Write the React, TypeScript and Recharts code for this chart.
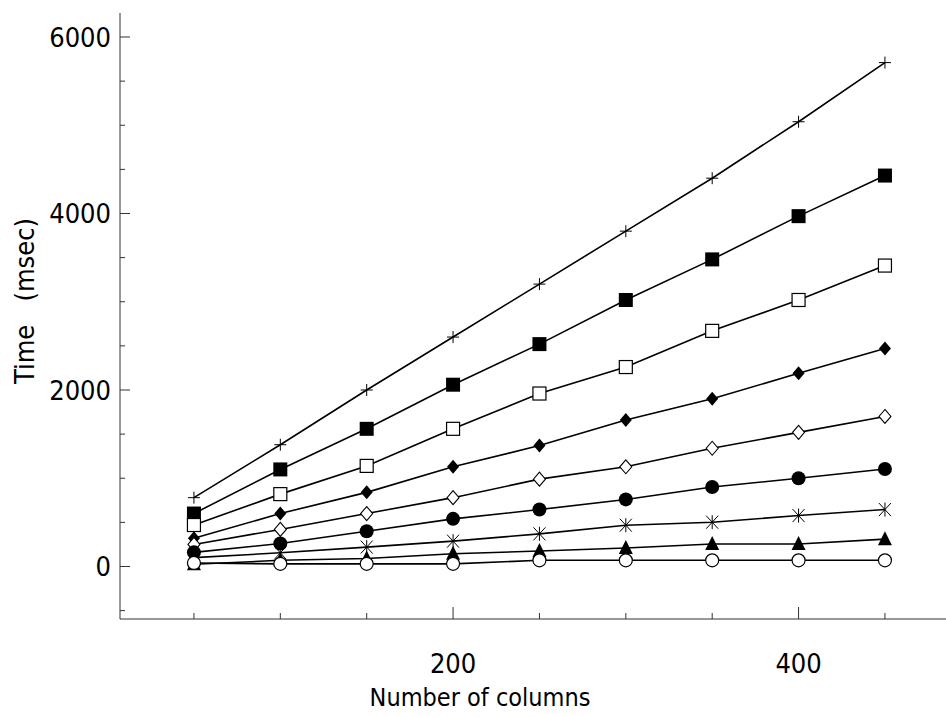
import { LineChart, Line, XAxis, YAxis } from "recharts";

const columns = [50, 100, 150, 200, 250, 300, 350, 400, 450];
const plusTimes = [780, 1380, 2000, 2600, 3200, 3800, 4400, 5040, 5710];
const filledSquareTimes = [600, 1100, 1560, 2060, 2520, 3020, 3480, 3970, 4430];
const openSquareTimes = [470, 820, 1140, 1560, 1960, 2260, 2670, 3020, 3410];
const filledDiamondTimes = [320, 600, 840, 1130, 1370, 1660, 1900, 2190, 2470];
const openDiamondTimes = [250, 420, 600, 780, 990, 1130, 1340, 1520, 1700];
const filledCircleTimes = [160, 260, 400, 540, 645, 760, 900, 1000, 1105];
const starTimes = [100, 155, 220, 287, 370, 468, 502, 577, 645];
const triangleTimes = [25, 70, 90, 145, 175, 210, 255, 255, 310];
const openCircleTimes = [40, 30, 30, 30, 70, 70, 70, 70, 70];

const xTicks = [50, 100, 150, 200, 250, 300, 350, 400, 450];
const xLabelled = [200, 400];
const yTicks = [-500, 0, 500, 1000, 1500, 2000, 2500, 3000, 3500, 4000, 4500, 5000, 5500, 6000];
const yLabelled = [0, 2000, 4000, 6000];

const series = [
  { key: "plus", values: plusTimes, shape: "plus" },
  { key: "filledSquare", values: filledSquareTimes, shape: "filledSquare" },
  { key: "openSquare", values: openSquareTimes, shape: "openSquare" },
  { key: "filledDiamond", values: filledDiamondTimes, shape: "filledDiamond" },
  { key: "openDiamond", values: openDiamondTimes, shape: "openDiamond" },
  { key: "filledCircle", values: filledCircleTimes, shape: "filledCircle" },
  { key: "star", values: starTimes, shape: "star" },
  { key: "triangle", values: triangleTimes, shape: "triangle" },
  { key: "openCircle", values: openCircleTimes, shape: "openCircle" },
];

const data = columns.map((c, i) => {
  const row: Record<string, number> = { columns: c };
  series.forEach((s) => (row[s.key] = s.values[i]));
  return row;
});

const font = "'DejaVu Sans Condensed', 'DejaVu Sans', sans-serif";
const axisColor = "#333";

function Marker({ cx, cy, shape }: { cx: number; cy: number; shape: string }) {
  if (cx == null || cy == null) return null;
  switch (shape) {
    case "plus":
      return (
        <g stroke="#000" strokeWidth={1}>
          <line x1={cx - 6} x2={cx + 6} y1={cy} y2={cy} />
          <line x1={cx} x2={cx} y1={cy - 6} y2={cy + 6} />
        </g>
      );
    case "filledSquare":
      return <rect x={cx - 7} y={cy - 7} width={14} height={14} fill="#000" />;
    case "openSquare":
      return <rect x={cx - 6.5} y={cy - 6.5} width={13} height={13} fill="#fff" stroke="#000" strokeWidth={1.2} />;
    case "filledDiamond":
      return <path d={`M${cx},${cy - 7}L${cx + 6},${cy}L${cx},${cy + 7}L${cx - 6},${cy}Z`} fill="#000" />;
    case "openDiamond":
      return (
        <path
          d={`M${cx},${cy - 7}L${cx + 6},${cy}L${cx},${cy + 7}L${cx - 6},${cy}Z`}
          fill="#fff"
          stroke="#000"
          strokeWidth={1.1}
        />
      );
    case "filledCircle":
      return <circle cx={cx} cy={cy} r={7} fill="#000" />;
    case "star":
      return (
        <g stroke="#000" strokeWidth={1}>
          <line x1={cx} x2={cx} y1={cy - 7} y2={cy + 7} />
          <line x1={cx - 6} x2={cx + 6} y1={cy - 6.5} y2={cy + 6.5} />
          <line x1={cx - 6} x2={cx + 6} y1={cy + 6.5} y2={cy - 6.5} />
        </g>
      );
    case "triangle":
      return <path d={`M${cx},${cy - 8}L${cx + 7},${cy + 6}L${cx - 7},${cy + 6}Z`} fill="#000" />;
    case "openCircle":
      return <circle cx={cx} cy={cy} r={6.5} fill="#fff" stroke="#000" strokeWidth={1.2} />;
    default:
      return null;
  }
}

const BottomTick = (props: any) => {
  const { x, y, payload } = props;
  const major = xLabelled.includes(payload.value);
  return (
    <g>
      <line x1={x} x2={x} y1={y} y2={y - (major ? 12 : 6)} stroke={axisColor} />
      {major && (
        <text x={x} y={y + 54} textAnchor="middle" fontSize={27} fontFamily={font} fill="#000">
          {payload.value}
        </text>
      )}
    </g>
  );
};

const TopTick = (props: any) => {
  const { x, y, payload } = props;
  const major = xLabelled.includes(payload.value);
  return <line x1={x} x2={x} y1={y} y2={y + (major ? 12 : 6)} stroke={axisColor} />;
};

const LeftTick = (props: any) => {
  const { x, y, payload } = props;
  const major = yLabelled.includes(payload.value);
  return (
    <g>
      <line x1={x} x2={x + (major ? 10 : 5)} y1={y} y2={y} stroke={axisColor} />
      {major && (
        <text x={x - 9} y={y} dy="0.36em" textAnchor="end" fontSize={27} fontFamily={font} fill="#000">
          {payload.value}
        </text>
      )}
    </g>
  );
};

const RightTick = (props: any) => {
  const { x, y, payload } = props;
  const major = yLabelled.includes(payload.value);
  return <line x1={x} x2={x - (major ? 10 : 5)} y1={y} y2={y} stroke={axisColor} />;
};

export default function App() {
  return (
    <div style={{ position: "absolute", left: 0, top: 0, background: "#fff" }}>
      <LineChart width={950} height={717} data={data} margin={{ top: 13, right: 2, left: 0, bottom: 0 }}>
        <XAxis
          dataKey="columns"
          type="number"
          domain={[7.2, 486.5]}
          allowDataOverflow
          ticks={xTicks}
          interval={0}
          tickSize={0}
          tickMargin={0}
          tickLine={false}
          tick={<BottomTick />}
          axisLine={{ stroke: axisColor }}
          height={98}
          label={{
            content: (p: any) => (
              <text
                x={p.viewBox.x + 360}
                y={p.viewBox.y + 87}
                textAnchor="middle"
                fontSize={25}
                fontFamily={font}
                fill="#000"
              >
                Number of columns
              </text>
            ),
          }}
        />
        <XAxis
          xAxisId="top"
          orientation="top"
          dataKey="columns"
          type="number"
          domain={[7.2, 486.5]}
          allowDataOverflow
          ticks={xTicks}
          interval={0}
          tickSize={0}
          tickMargin={0}
          tickLine={false}
          tick={<TopTick />}
          axisLine={{ stroke: axisColor }}
          height={0}
        />
        <YAxis
          type="number"
          domain={[-595, 6272]}
          allowDataOverflow
          ticks={yTicks}
          interval={0}
          tickSize={0}
          tickMargin={0}
          tickLine={false}
          tick={<LeftTick />}
          axisLine={{ stroke: axisColor }}
          width={120}
          label={{
            content: (p: any) => (
              <text
                x={34}
                y={p.viewBox.y + 288}
                transform={`rotate(-90, 34, ${p.viewBox.y + 288})`}
                textAnchor="middle"
                fontSize={27}
                fontFamily={font}
                fill="#000"
                style={{ whiteSpace: "pre" }}
              >
                {"Time   (msec)"}
              </text>
            ),
          }}
        />
        <YAxis
          yAxisId="right"
          orientation="right"
          type="number"
          domain={[-595, 6272]}
          allowDataOverflow
          ticks={yTicks}
          interval={0}
          tickSize={0}
          tickMargin={0}
          tickLine={false}
          tick={<RightTick />}
          axisLine={{ stroke: axisColor }}
          width={0}
        />
        {series.map((s) => (
          <Line
            key={s.key}
            dataKey={s.key}
            stroke="#000"
            strokeWidth={1.6}
            isAnimationActive={false}
            dot={(p: any) => <Marker key={`${s.key}-${p.index}`} cx={p.cx} cy={p.cy} shape={s.shape} />}
            activeDot={false}
          />
        ))}
      </LineChart>
    </div>
  );
}
